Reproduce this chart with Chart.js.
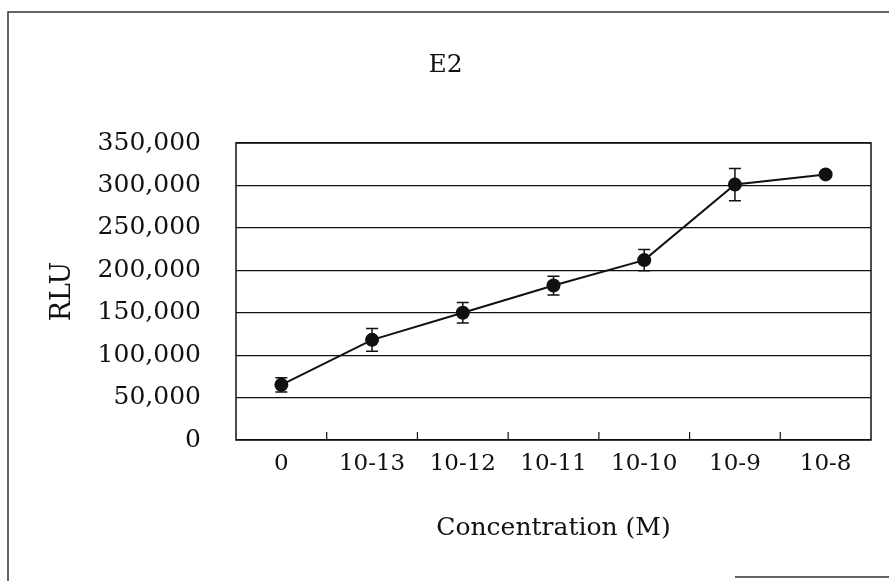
<!DOCTYPE html>
<html lang="en">
<head>
    <meta charset="UTF-8">
    <title>E2</title>
    <script src="https://cdn.jsdelivr.net/npm/chart.js"></script>
    <style>
        body { margin: 0; background: #fff; }
        #box { position: absolute; left: 0; top: 0; width: 889px; height: 581px; }
    </style>
</head>
<body>
    <div id="box">
        <canvas id="myChart" width="889" height="581"></canvas>
    </div>
<script>

// dados
var concentracoes = ['0', '10-13', '10-12', '10-11', '10-10', '10-9', '10-8'];
var rlu = [65000, 118000, 150000, 182000, 212000, 301000, 313000];
var erro = [8500, 13500, 12000, 11000, 12500, 19000, 0];
var yTicks = [0, 50000, 100000, 150000, 200000, 250000, 300000, 350000];

var fonte = "'DejaVu Serif', serif";
var preto = '#111';

// barras de erro, moldura da area e tracinhos do eixo x
var extras = {
    id: 'extras',
    afterDatasetsDraw(chart) {
        var ctx = chart.ctx;
        var area = chart.chartArea;
        var x = chart.scales.x;
        var y = chart.scales.y;
        ctx.save();
        ctx.strokeStyle = preto;

        ctx.lineWidth = 1.5;
        ctx.strokeRect(area.left, area.top, area.right - area.left, area.bottom - area.top);

        // tracinhos entre as categorias, para dentro
        var meio = (x.getPixelForValue(1) - x.getPixelForValue(0)) / 2;
        ctx.lineWidth = 1.2;
        for (var i = 0; i < concentracoes.length - 1; i++) {
            var px = x.getPixelForValue(i) + meio;
            ctx.beginPath();
            ctx.moveTo(px, area.bottom);
            ctx.lineTo(px, area.bottom - 8);
            ctx.stroke();
        }

        ctx.lineWidth = 1.5;
        for (var j = 0; j < rlu.length; j++) {
            if (!erro[j]) continue;
            var cx = x.getPixelForValue(j);
            var yTop = y.getPixelForValue(rlu[j] + erro[j]);
            var yBot = y.getPixelForValue(rlu[j] - erro[j]);
            ctx.beginPath();
            ctx.moveTo(cx, yTop); ctx.lineTo(cx, yBot);
            ctx.moveTo(cx - 6, yTop); ctx.lineTo(cx + 6, yTop);
            ctx.moveTo(cx - 6, yBot); ctx.lineTo(cx + 6, yBot);
            ctx.stroke();
        }
        ctx.restore();
    },
    afterDraw(chart) {
        // moldura externa
        var ctx = chart.ctx;
        ctx.save();
        ctx.strokeStyle = '#333';
        ctx.lineWidth = 1.5;
        ctx.beginPath();
        ctx.moveTo(8, 581); ctx.lineTo(8, 12); ctx.lineTo(889, 12);
        ctx.moveTo(735, 577); ctx.lineTo(889, 577);
        ctx.stroke();
        ctx.restore();
    }
};

var data = {
    labels: concentracoes,
    datasets: [{
        label: 'RLU',
        data: rlu,
        borderColor: preto,
        backgroundColor: preto,
        borderWidth: 2,
        pointRadius: 6,
        pointHoverRadius: 6,
        pointBackgroundColor: preto,
        tension: 0
    }]
};

var config = {
    type: 'line',
    data: data,
    options: {
        responsive: false,
        animation: false,
        layout: { padding: { left: 20, right: 18, top: 20, bottom: 0 } },
        plugins: {
            legend: { display: false },
            tooltip: { enabled: false },
            title: {
                display: true,
                text: 'E2',
                color: preto,
                font: { family: fonte, size: 25, weight: 'normal' },
                padding: { top: 30, bottom: 63 }
            }
        },
        scales: {
            x: {
                offset: true,
                grid: { display: false },
                border: { display: false },
                ticks: {
                    color: preto,
                    padding: 2,
                    maxRotation: 0,
                    autoSkip: false,
                    font: { family: fonte, size: 23 }
                },
                title: {
                    display: true,
                    text: 'Concentration (M)',
                    color: preto,
                    font: { family: fonte, size: 25 },
                    padding: { top: 0, bottom: 38 }
                },
                afterFit(scale) { scale.height = 141; }
            },
            y: {
                min: 0,
                max: 350000,
                afterBuildTicks(scale) {
                    scale.ticks = yTicks.map(function (v) { return { value: v }; });
                },
                grid: { color: preto, lineWidth: 1.2, drawTicks: false },
                border: { display: false },
                ticks: {
                    color: preto,
                    padding: 35,
                    font: { family: fonte, size: 25 },
                    callback: function (v) { return v.toLocaleString('en-US'); }
                },
                title: {
                    display: true,
                    text: 'RLU',
                    color: preto,
                    font: { family: fonte, size: 27 },
                    padding: { top: 27, bottom: 0 }
                },
                afterFit(scale) { scale.width = 216; }
            }
        }
    },
    plugins: [extras]
};

var myChart = new Chart(document.getElementById('myChart'), config);

</script>
</body>
</html>
